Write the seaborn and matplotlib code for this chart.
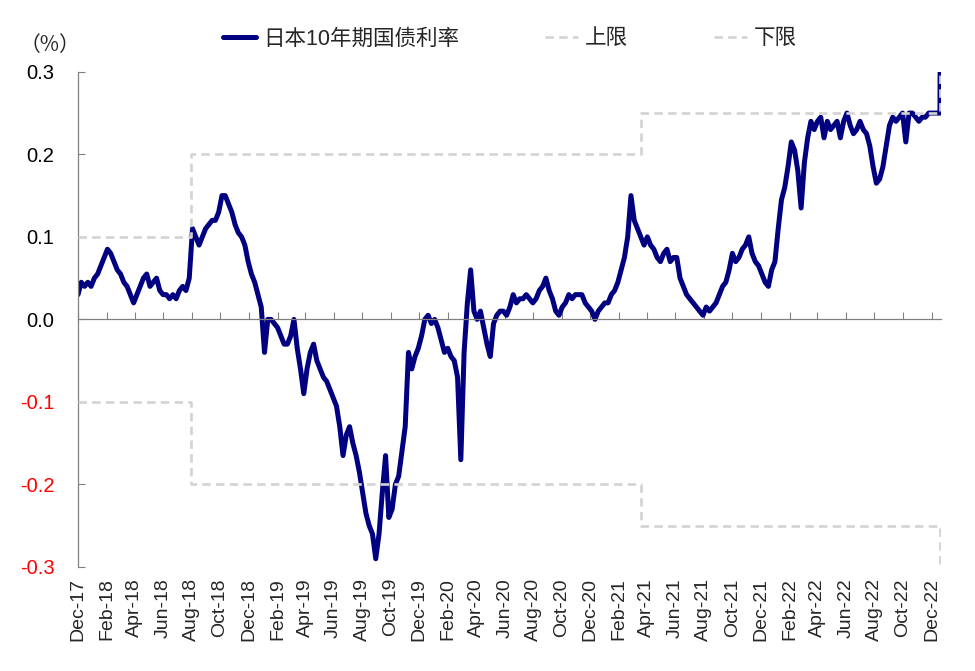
import numpy as np
import pandas as pd
import matplotlib
matplotlib.use("Agg")
import matplotlib.pyplot as plt
import matplotlib.dates as mdates
import seaborn as sns

# ---------------- data ----------------
# weekly readings of the JGB 10y yield (%), starting 2017-12-01, every 7 days
yield_start = "2017-12-01"
yield_weekly = [
    0.03, 0.045, 0.04, 0.045, 0.04, 0.05, 0.055, 0.065, 0.075, 0.085,
    0.08, 0.07, 0.06, 0.055, 0.045, 0.04, 0.03, 0.02, 0.03, 0.04,
    0.05, 0.055, 0.04, 0.045, 0.05, 0.035, 0.03, 0.03, 0.025, 0.03,
    0.025, 0.035, 0.04, 0.035, 0.05, 0.11, 0.10, 0.09, 0.10, 0.11,
    0.115, 0.12, 0.12, 0.13, 0.15, 0.15, 0.14, 0.13, 0.115, 0.105,
    0.10, 0.09, 0.07, 0.055, 0.045, 0.03, 0.015, -0.04, 0.0, 0.0,
    -0.005, -0.01, -0.02, -0.03, -0.03, -0.02, 0.0, -0.035, -0.06, -0.09,
    -0.06, -0.04, -0.03, -0.05, -0.06, -0.07, -0.075, -0.085, -0.095, -0.105,
    -0.13, -0.165, -0.14, -0.13, -0.15, -0.165, -0.185, -0.21, -0.235, -0.25,
    -0.26, -0.29, -0.26, -0.21, -0.165, -0.24, -0.23, -0.2, -0.19, -0.16,
    -0.13, -0.04, -0.06, -0.045, -0.035, -0.02, 0.0, 0.005, -0.005, 0.0,
    -0.01, -0.025, -0.04, -0.035, -0.045, -0.05, -0.07, -0.17, -0.04, 0.02,
    0.06, 0.01, 0.0, 0.01, -0.01, -0.03, -0.045, -0.005, 0.005, 0.01,
    0.01, 0.005, 0.015, 0.03, 0.02, 0.025, 0.025, 0.03, 0.025, 0.02,
    0.025, 0.035, 0.04, 0.05, 0.035, 0.025, 0.01, 0.005, 0.015, 0.02,
    0.03, 0.025, 0.03, 0.03, 0.03, 0.02, 0.015, 0.01, 0.0, 0.01,
    0.015, 0.02, 0.02, 0.03, 0.035, 0.045, 0.06, 0.075, 0.10, 0.15,
    0.12, 0.11, 0.10, 0.09, 0.10, 0.09, 0.085, 0.075, 0.07, 0.08,
    0.085, 0.07, 0.075, 0.075, 0.05, 0.04, 0.03, 0.025, 0.02, 0.015,
    0.01, 0.005, 0.015, 0.01, 0.015, 0.02, 0.03, 0.04, 0.045, 0.06,
    0.08, 0.07, 0.075, 0.085, 0.09, 0.10, 0.08, 0.07, 0.065, 0.055,
    0.045, 0.04, 0.06, 0.07, 0.11, 0.145, 0.16, 0.185, 0.215, 0.205,
    0.18, 0.135, 0.19, 0.22, 0.24, 0.23, 0.24, 0.245, 0.22, 0.24,
    0.23, 0.235, 0.24, 0.22, 0.24, 0.25, 0.235, 0.225, 0.23, 0.24,
    0.23, 0.225, 0.21, 0.185, 0.165, 0.17, 0.185, 0.21, 0.235, 0.245,
    0.24, 0.245, 0.25, 0.215, 0.25, 0.25, 0.245, 0.24, 0.245, 0.245,
    0.25, 0.25, 0.25, 0.25,
]
yield_tail_dates = ["2022-12-19", "2022-12-20"]
yield_tail_values = [0.25, 0.41]

# BoJ YCC band
band_dates = ["2017-12-01", "2018-07-31", "2021-03-19", "2022-12-20", "2022-12-21"]
band_upper = [0.1, 0.2, 0.25, 0.5, 0.5]
band_lower = [-0.1, -0.2, -0.25, -0.5, -0.5]

y_ticks = [-0.3, -0.2, -0.1, 0.0, 0.1, 0.2, 0.3]
x_tick_dates = pd.date_range("2017-12-01", "2022-12-01", freq="2MS")
x_tick_labels = [d.strftime("%b-%y") for d in x_tick_dates]

series_names = ["日本10年期国债利率", "上限", "下限"]

# ---------------- build frames ----------------
dates = list(pd.date_range(yield_start, periods=len(yield_weekly), freq="7D")) + \
        list(pd.to_datetime(yield_tail_dates))
df_y = pd.DataFrame({"date": dates, "value": yield_weekly + yield_tail_values})
df_b = pd.DataFrame({"date": pd.to_datetime(band_dates),
                     "upper": band_upper, "lower": band_lower})

# ---------------- plot ----------------
sns.set_style("white")
plt.rcParams["font.family"] = ["Liberation Sans", "Noto Sans CJK SC"]
plt.rcParams["axes.unicode_minus"] = False

fig = plt.figure(figsize=(9.75, 6.71), dpi=100)
ax = fig.add_axes([0.080, 0.155, 0.885, 0.738])

navy = "#000080"
gray = "#D3D3D3"

sns.lineplot(data=df_y, x="date", y="value", ax=ax, color=navy, lw=3.6,
             label=series_names[0], zorder=2)
sns.lineplot(data=df_b, x="date", y="upper", ax=ax, color=gray, lw=1.9,
             drawstyle="steps-post", linestyle=(0, (3.2, 2.0)),
             label=series_names[1], zorder=3)
sns.lineplot(data=df_b, x="date", y="lower", ax=ax, color=gray, lw=1.9,
             drawstyle="steps-post", linestyle=(0, (3.2, 2.0)),
             label=series_names[2], zorder=3)

ax.set_xlim(pd.Timestamp("2017-12-01"), pd.Timestamp("2022-12-21"))
ax.set_ylim(-0.3, 0.3)
ax.set_xlabel("")
ax.set_ylabel("")

# y axis
ax.set_yticks(y_ticks)
ax.set_yticklabels([f"{v:.1f}" for v in y_ticks])
ax.tick_params(axis="y", direction="in", length=5, width=0.8, color="#808080",
               labelsize=14.5, pad=17, left=True)
for lbl, v in zip(ax.get_yticklabels(), y_ticks):
    lbl.set_color("#FF0000" if v < 0 else "black")

# spines
for s in ["top", "right"]:
    ax.spines[s].set_visible(False)
ax.spines["left"].set_color("#808080")
ax.spines["left"].set_linewidth(0.9)
ax.spines["bottom"].set_position(("data", 0))
ax.spines["bottom"].set_color("#808080")
ax.spines["bottom"].set_linewidth(0.9)

# x ticks on zero line
xt = mdates.date2num(x_tick_dates)
ax.set_xticks(xt)
ax.tick_params(axis="x", direction="in", length=5, width=0.8, color="#808080",
               labelbottom=False, bottom=True)

# x labels at bottom of plot
sec = ax.secondary_xaxis(0)
sec.set_xticks(xt)
sec.set_xticklabels(x_tick_labels)
sec.tick_params(axis="x", length=0, labelsize=14, pad=8, rotation=90)
sec.spines["bottom"].set_visible(False)

# unit label
fig.text(0.051, 0.933, "（%）", fontsize=15, ha="center", va="center",
         family=["Noto Sans CJK SC", "Liberation Sans"])

# legend
leg = ax.legend(loc="center", bbox_to_anchor=(0.523, 0.942),
                bbox_transform=fig.transFigure, ncol=3, frameon=False,
                fontsize=15.5, handlelength=1.55, handletextpad=0.3,
                columnspacing=4.0)

fig.savefig("out.png", dpi=100, facecolor="white")
